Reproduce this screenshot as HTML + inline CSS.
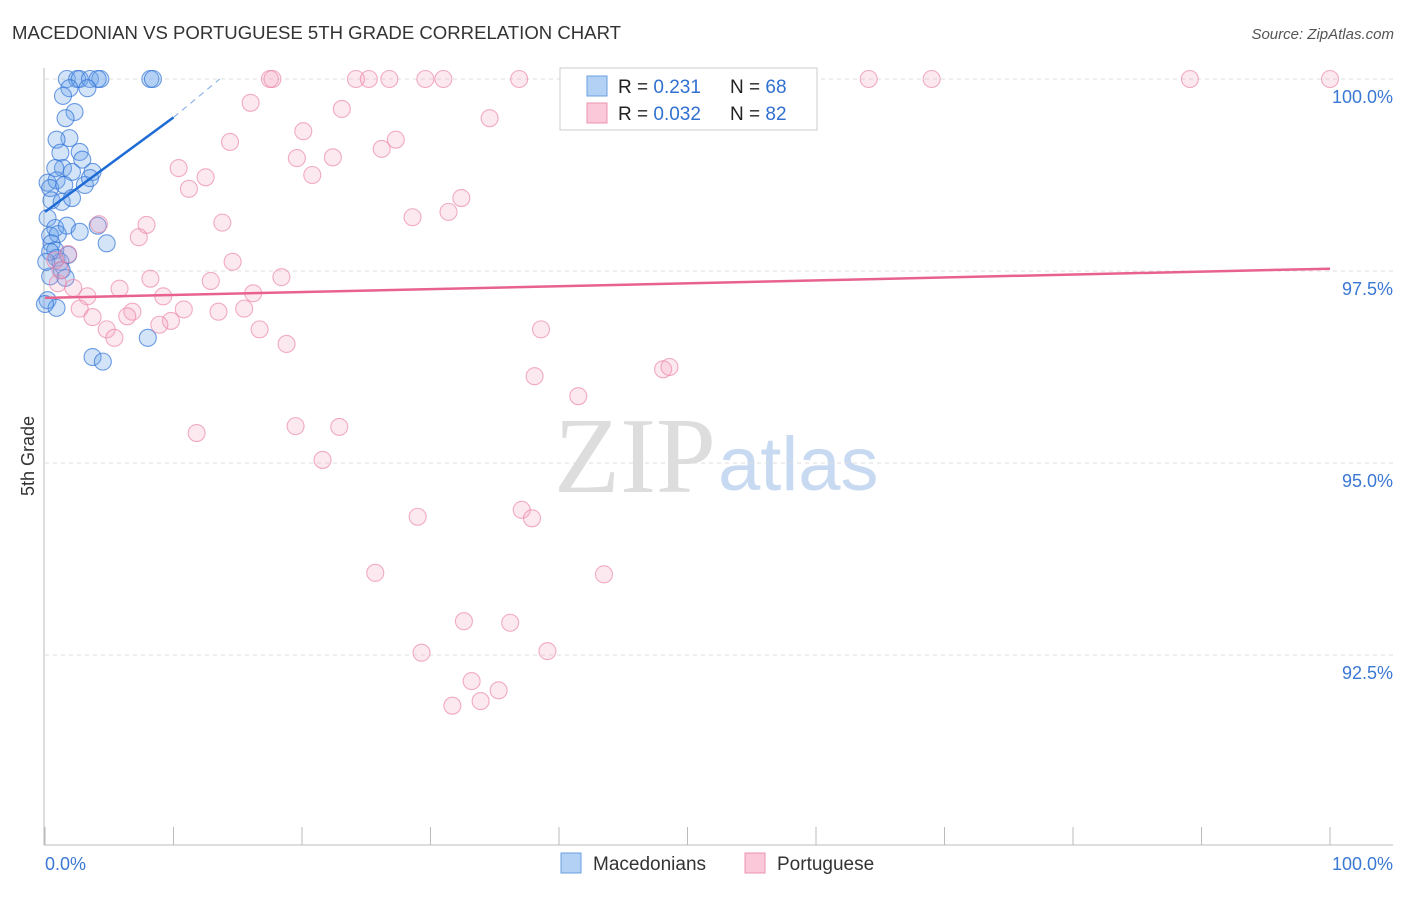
<!DOCTYPE html>
<html><head><meta charset="utf-8"><style>
body{margin:0;background:#fff;font-family:"Liberation Sans",sans-serif}
</style></head><body>
<svg width="1406" height="892" viewBox="0 0 1406 892" font-family="Liberation Sans, sans-serif">
<text x="12" y="39" font-size="18" fill="#333" textLength="609" lengthAdjust="spacingAndGlyphs">MACEDONIAN VS PORTUGUESE 5TH GRADE CORRELATION CHART</text>
<text x="1394" y="39" font-size="15" fill="#555" text-anchor="end" font-style="italic">Source: ZipAtlas.com</text>
<text x="34" y="456" font-size="18" fill="#333" text-anchor="middle" transform="rotate(-90 34 456)">5th Grade</text>
<text x="716" y="492" font-size="108" fill="#ddd" text-anchor="end" font-family="Liberation Serif, serif">ZIP</text>
<text x="718" y="490" font-size="76" fill="#c8daf2">atlas</text>
<g id="grid"></g><g id="axes"></g><g id="pts"></g><g id="trend"></g>
<g>
<rect x="560" y="68" width="257" height="62" fill="#fff" stroke="#ccc"/>
<rect x="587" y="76" width="20" height="20" fill="#b3d0f5" stroke="#6a9fe0"/>
<rect x="587" y="103" width="20" height="20" fill="#fac8d8" stroke="#ee93b0"/>
<text x="618" y="93" font-size="19" fill="#222">R = <tspan fill="#3070d0"> 0.231</tspan><tspan x="730">N = </tspan><tspan fill="#3070d0">68</tspan></text>
<text x="618" y="120" font-size="19" fill="#222">R = <tspan fill="#3070d0">0.032</tspan><tspan x="730">N = </tspan><tspan fill="#3070d0">82</tspan></text>
</g>
<g>
<rect x="561" y="853" width="20" height="20" fill="#b3d0f5" stroke="#6a9fe0"/>
<text x="593" y="870" font-size="19" fill="#333">Macedonians</text>
<rect x="745" y="853" width="20" height="20" fill="#fac8d8" stroke="#ee93b0"/>
<text x="777" y="870" font-size="19" fill="#333">Portuguese</text>
</g>
<text x="45" y="870" font-size="18" fill="#3a78d4">0.0%</text>
<text x="1393" y="870" font-size="18" fill="#3a78d4" text-anchor="end">100.0%</text>
</svg>
<script>
const yTicks=[100,97.5,95,92.5];
const yTickLabels=["100.0%","97.5%","95.0%","92.5%"];
const xTicks=[0,10,20,30,40,50,60,70,80,90,100];
const blueX=[1.7,2.5,2.7,3.5,4.3,4.1,8.2,8.4,1.9,3.3,1.4,2.3,1.6,1.9,0.9,1.2,2.7,2.9,1.4,0.8,2.1,3.7,0.2,0.9,0.4,1.5,3.1,3.5,0.5,1.3,2.1,0.2,0.8,1.7,4.1,0.4,1.0,2.7,4.8,0.5,0.8,0.9,1.2,1.8,1.3,0.4,1.6,0.2,0.9,8.0,3.7,4.5,0,0.4,0.1];
const blueY=[100,100,100,100,100,100,100,100,99.88,99.88,99.78,99.57,99.49,99.23,99.21,99.04,99.05,98.95,98.84,98.84,98.79,98.79,98.65,98.68,98.58,98.62,98.62,98.71,98.42,98.40,98.45,98.19,98.06,98.09,98.09,97.96,97.98,98.01,97.86,97.86,97.77,97.67,97.62,97.71,97.51,97.43,97.41,97.12,97.02,96.63,96.38,96.32,97.07,97.75,97.62];
const pinkX=[17.5,17.7,24.2,25.2,26.8,29.6,31.0,36.9,45.5,64.1,69.0,89.1,100,16.0,23.1,34.6,20.1,14.4,27.3,26.2,19.6,22.4,10.4,12.5,20.8,11.2,32.4,28.6,31.4,13.8,7.9,4.2,7.3,1.8,14.6,8.2,12.9,18.4,1.0,2.2,3.3,5.8,9.2,16.2,2.7,6.8,10.8,13.5,15.5,3.7,6.4,9.8,4.8,8.9,16.7,5.4,38.6,18.8,38.1,41.5,48.1,48.6,11.8,19.5,22.9,21.6,29.0,37.1,37.9,25.7,43.5,32.6,36.2,29.3,39.1,33.2,35.3,31.7,33.9,1.2,0.8];
const pinkY=[100,100,100,100,100,100,100,100,100,100,100,100,100,99.69,99.61,99.49,99.32,99.18,99.21,99.09,98.97,98.98,98.84,98.72,98.75,98.57,98.45,98.20,98.27,98.13,98.10,98.11,97.94,97.72,97.62,97.40,97.37,97.42,97.34,97.28,97.17,97.27,97.17,97.21,97.01,96.97,97.0,96.97,97.01,96.90,96.91,96.85,96.74,96.80,96.74,96.63,96.74,96.55,96.13,95.87,96.22,96.25,95.39,95.48,95.47,95.04,94.30,94.39,94.28,93.57,93.55,92.94,92.92,92.53,92.55,92.16,92.04,91.84,91.90,97.51,97.64];
const blueTrend=[[0,98.27],[10,99.5]];
const blueTrendExt=[[10,99.5],[13.6,100]];
const pinkTrend=[[0,97.15],[100,97.53]];
const NS='http://www.w3.org/2000/svg';
const sx=v=>45+v*12.85, sy=v=>79+(100-v)*76.8;
function mk(t,a,p){const e=document.createElementNS(NS,t);for(const k in a)e.setAttribute(k,a[k]);p.appendChild(e);return e;}
const grid=document.getElementById('grid'),axes=document.getElementById('axes'),pts=document.getElementById('pts'),tr=document.getElementById('trend');
yTicks.forEach((v,i)=>{
 const l=mk('line',{x1:45,x2:1393,y1:sy(v),y2:sy(v),stroke:'#ddd','stroke-dasharray':'4,4'},grid);
 
 
 const t=mk('text',{x:1393,y:sy(v)+24,'font-size':18,fill:'#3a78d4','text-anchor':'end'},grid);
 t.textContent=yTickLabels[i];
 
 
});
const ya=mk('line',{x1:44,x2:44,y1:68,y2:845,stroke:'#bbb'},axes);


const xa=mk('line',{x1:44,x2:1393,y1:845,y2:845,stroke:'#bbb'},axes);


xTicks.forEach(v=>{
 const t=mk('line',{x1:sx(v),x2:sx(v),y1:827,y2:845,stroke:'#bbb'},axes);
 
 
});
blueX.forEach((x,i)=>{
 const c=mk('circle',{cx:sx(x),cy:sy(blueY[i]),r:8.5,fill:'rgba(110,165,235,0.3)',stroke:'rgba(50,115,215,0.7)','stroke-width':1.1},pts);
 
 
});
pinkX.forEach((x,i)=>{
 const c=mk('circle',{cx:sx(x),cy:sy(pinkY[i]),r:8.5,fill:'rgba(245,165,190,0.25)',stroke:'rgba(235,130,165,0.65)','stroke-width':1.1},pts);
 
 
});
const bt=mk('line',{x1:sx(blueTrend[0][0]),y1:sy(blueTrend[0][1]),x2:sx(blueTrend[1][0]),y2:sy(blueTrend[1][1]),stroke:'#1f6bd6','stroke-width':2.5},tr);


const be=mk('line',{x1:sx(blueTrendExt[0][0]),y1:sy(blueTrendExt[0][1]),x2:sx(blueTrendExt[1][0]),y2:sy(blueTrendExt[1][1]),stroke:'#7aa6e6','stroke-width':1,'stroke-dasharray':'6,5'},tr);


const pt=mk('line',{x1:sx(pinkTrend[0][0]),y1:sy(pinkTrend[0][1]),x2:sx(pinkTrend[1][0]),y2:sy(pinkTrend[1][1]),stroke:'#e8628e','stroke-width':2.5},tr);


</script>
</body></html>
